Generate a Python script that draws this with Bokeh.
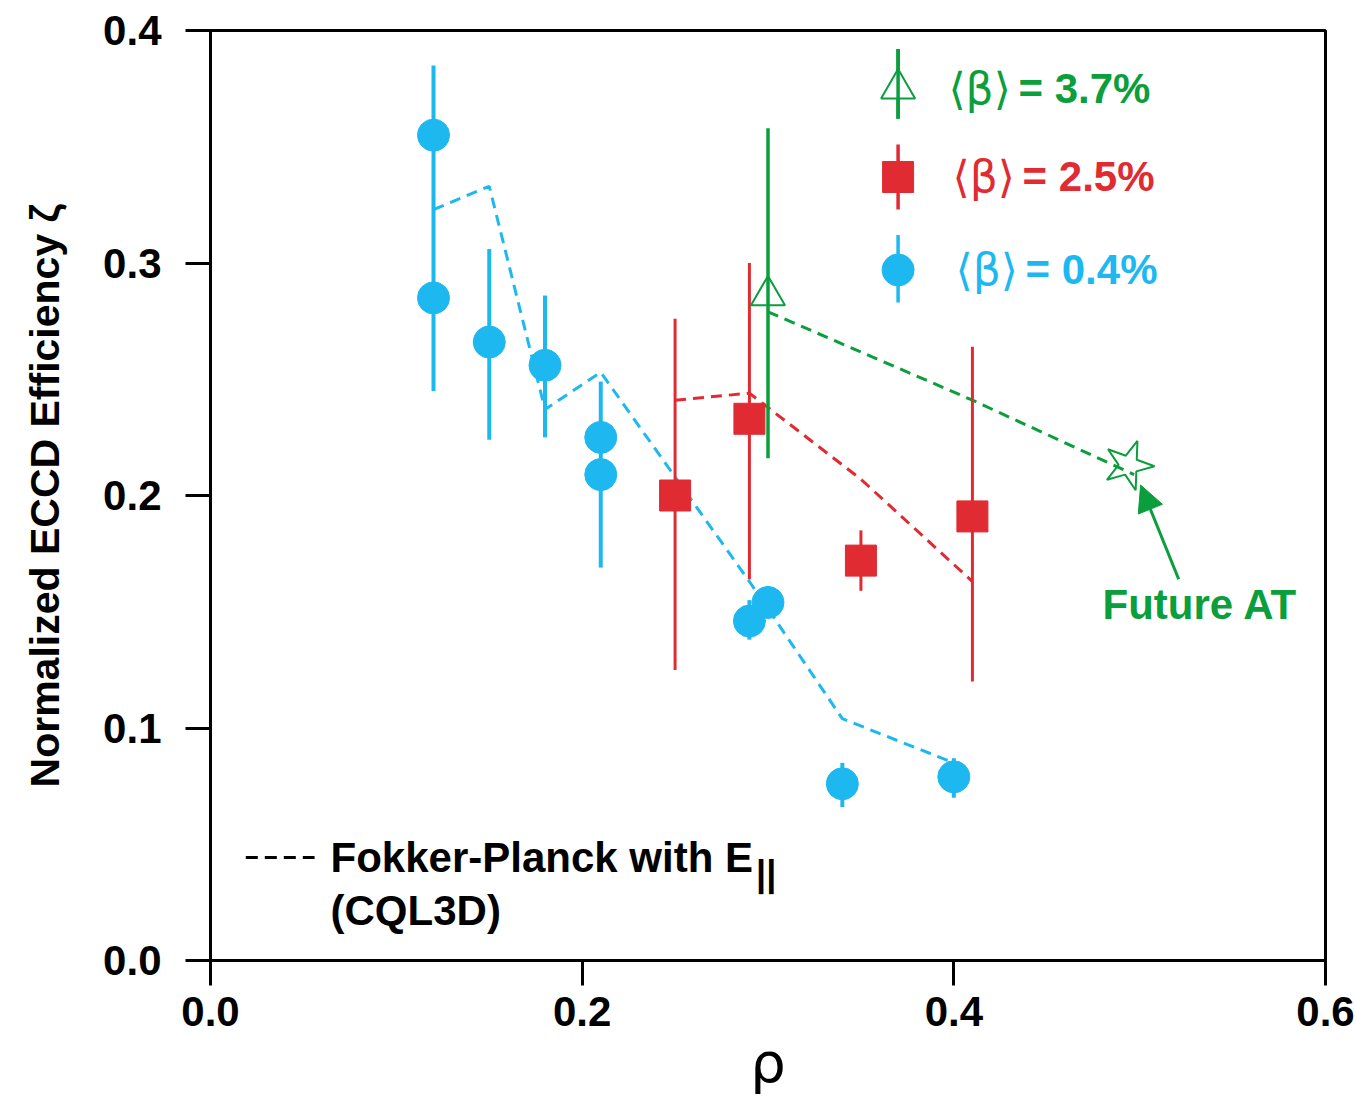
from bokeh.plotting import figure
from bokeh.models import Range1d, FixedTicker, Arrow, NormalHead
from bokeh.core.properties import value
from bokeh.embed import file_html
from bokeh.resources import INLINE

# ---------------- data ----------------
# <beta> = 0.4 %  (blue circles)
rho_low = [0.12, 0.12, 0.15, 0.18, 0.21, 0.21, 0.29, 0.30, 0.34, 0.40]
zeta_low = [0.355, 0.285, 0.266, 0.256, 0.225, 0.209, 0.146, 0.154, 0.076, 0.079]
zeta_low_hi = [0.385, 0.325, 0.306, 0.286, 0.249, 0.209, 0.155, 0.154, 0.085, 0.087]
zeta_low_lo = [0.325, 0.245, 0.224, 0.225, 0.209, 0.169, 0.138, 0.154, 0.066, 0.070]
cql_low_rho = [0.12, 0.15, 0.18, 0.21, 0.29, 0.34, 0.40]
cql_low = [0.323, 0.333, 0.237, 0.253, 0.163, 0.104, 0.085]

# <beta> = 2.5 %  (red squares)
rho_mid = [0.25, 0.29, 0.35, 0.41]
zeta_mid = [0.200, 0.233, 0.172, 0.191]
zeta_mid_hi = [0.276, 0.300, 0.185, 0.264]
zeta_mid_lo = [0.125, 0.164, 0.159, 0.120]
cql_mid_rho = [0.25, 0.29, 0.35, 0.41]
cql_mid = [0.241, 0.244, 0.207, 0.163]

# <beta> = 3.7 %  (green triangle)
rho_high = [0.30]
zeta_high = [0.286]
zeta_high_hi = [0.358]
zeta_high_lo = [0.216]
cql_high_rho = [0.30, 0.41, 0.497]
cql_high = [0.279, 0.241, 0.209]

# Future AT (open star)
rho_future = [0.494]
zeta_future = [0.213]

x_ticks = [0.0, 0.2, 0.4, 0.6]
x_tick_labels = ["0.0", "0.2", "0.4", "0.6"]
y_ticks = [0.0, 0.1, 0.2, 0.3, 0.4]
y_tick_labels = ["0.0", "0.1", "0.2", "0.3", "0.4"]

legend_labels = ["= 3.7%", "= 2.5%", "= 0.4%"]

# ---------------- style ----------------
BLUE = "#1EB8F0"
RED = "#E02B32"
GREEN = "#0A9E3C"
FONT = "Liberation Sans"
SYM = "DejaVu Sans"
FS = 42  # main text size in px
PX_PER_X = 1115 / 0.6  # frame pixels per data unit (layout helper only)

p = figure(width=1356, height=1099, output_backend="svg", toolbar_location=None,
           x_range=Range1d(0, 0.6), y_range=Range1d(0, 0.4),
           min_border_left=210, min_border_right=31, min_border_top=30, min_border_bottom=139)
p.background_fill_color = "white"
p.border_fill_color = "white"
p.xgrid.visible = False
p.ygrid.visible = False
p.outline_line_color = "black"
p.outline_line_width = 3
p.outline_line_alpha = 1

for ax in (p.xaxis[0], p.yaxis[0]):
    ax.axis_line_width = 3
    ax.major_tick_line_width = 3
    ax.major_tick_out = 25
    ax.major_tick_in = 0
    ax.minor_tick_line_color = None
    ax.major_label_text_font = FONT
    ax.major_label_text_font_style = "bold"
    ax.major_label_text_font_size = f"{FS}px"
    ax.major_label_text_color = "black"
    ax.axis_label_text_color = "black"

p.xaxis[0].ticker = FixedTicker(ticks=x_ticks)
p.xaxis[0].major_label_overrides = dict(zip(x_ticks, x_tick_labels))
p.xaxis[0].major_label_standoff = 11
p.xaxis[0].axis_label = "ρ"
p.xaxis[0].axis_label_text_font = SYM
p.xaxis[0].axis_label_text_font_style = "normal"
p.xaxis[0].axis_label_text_font_size = "56px"
p.xaxis[0].axis_label_standoff = 1

p.yaxis[0].ticker = FixedTicker(ticks=y_ticks)
p.yaxis[0].major_label_overrides = dict(zip(y_ticks, y_tick_labels))
p.yaxis[0].major_label_standoff = 24
p.yaxis[0].axis_label = "Normalized ECCD Efficiency ζ"
p.yaxis[0].axis_label_text_font = FONT
p.yaxis[0].axis_label_text_font_style = "bold"
p.yaxis[0].axis_label_text_font_size = "41px"
p.yaxis[0].axis_label_standoff = 32

# ---------------- CQL3D dashed lines ----------------
p.line(cql_low_rho, cql_low, line_color=BLUE, line_width=3, line_dash="11 7")
p.line(cql_mid_rho, cql_mid, line_color=RED, line_width=3, line_dash="11 7")
p.line(cql_high_rho, cql_high, line_color=GREEN, line_width=3, line_dash="11 7")

# ---------------- error bars ----------------
p.segment(x0=rho_low, y0=zeta_low_lo, x1=rho_low, y1=zeta_low_hi, line_color=BLUE, line_width=4)
p.segment(x0=rho_mid, y0=zeta_mid_lo, x1=rho_mid, y1=zeta_mid_hi, line_color=RED, line_width=3)
p.segment(x0=rho_high, y0=zeta_high_lo, x1=rho_high, y1=zeta_high_hi, line_color=GREEN, line_width=3.5)

# ---------------- markers ----------------
p.scatter(rho_low, zeta_low, marker="circle", size=32, fill_color=BLUE, line_color=BLUE)
p.scatter(rho_mid, zeta_mid, marker="square", size=31, fill_color=RED, line_color=RED)
p.scatter(rho_high, zeta_high, marker="triangle", size=34, fill_color=None,
          line_color=GREEN, line_width=2)
p.scatter(rho_future, zeta_future, marker="star", size=52, angle=-0.35, fill_color=None,
          line_color=GREEN, line_width=2)

# ---------------- Future AT annotation ----------------
p.add_layout(Arrow(end=NormalHead(size=26, fill_color=GREEN, line_color=GREEN, line_width=1),
                   x_start=0.521, y_start=0.164, x_end=0.5005, y_end=0.2045,
                   line_color=GREEN, line_width=3))
p.text(x=[0.480], y=[0.153], text=["Future AT"], text_font=value(FONT), text_font_style="bold",
       text_font_size=f"{FS}px", text_color=GREEN, text_baseline="middle", text_align="left")

# ---------------- legend (top right) ----------------
leg_x = 0.370
leg_y = [0.375, 0.337, 0.297]
leg_bar = [(0.362, 0.392), (0.323, 0.351), (0.283, 0.312)]
leg_col = [GREEN, RED, BLUE]
leg_sym_x = [0.3971, 0.3993, 0.4009]
leg_txt_x = [0.4348, 0.4370, 0.4386]
for i in range(3):
    p.segment(x0=[leg_x], y0=[leg_bar[i][0]], x1=[leg_x], y1=[leg_bar[i][1]],
              line_color=leg_col[i], line_width=3.5)
p.scatter([leg_x], [leg_y[0]], marker="triangle", size=34, fill_color="white",
          line_color=GREEN, line_width=2)
p.segment(x0=[leg_x], y0=[leg_bar[0][0]], x1=[leg_x], y1=[leg_bar[0][1]],
          line_color=GREEN, line_width=3.5)
p.scatter([leg_x], [leg_y[1]], marker="square", size=31, fill_color=RED, line_color=RED)
p.scatter([leg_x], [leg_y[2]], marker="circle", size=32, fill_color=BLUE, line_color=BLUE)
for i in range(3):
    p.text(x=[leg_sym_x[i]], y=[leg_y[i]], text=["⟨β⟩"], text_font=value(SYM),
           text_font_style="normal", text_font_size="44px", text_color=leg_col[i],
           text_baseline="middle", text_align="left")
    p.text(x=[leg_txt_x[i]], y=[leg_y[i]], text=[legend_labels[i]], text_font=value(FONT),
           text_font_style="bold", text_font_size=f"{FS}px", text_color=leg_col[i],
           text_baseline="middle", text_align="left")

# ---------------- CQL3D legend (bottom left) ----------------
fp_x = 0.0646
fp_text = "Fokker-Planck with E"
fp_width_em = 10.06  # Arial-metric bold width of fp_text in em
p.line([0.019, 0.056], [0.0443, 0.0443], line_color="black", line_width=3, line_dash="12 7")
p.text(x=[fp_x], y=[0.0443], text=[fp_text], text_font=value(FONT),
       text_font_style="bold", text_font_size=f"{FS}px", text_color="black",
       text_baseline="middle", text_align="left")
p.text(x=[fp_x + (fp_width_em * FS + 3) / PX_PER_X], y=[0.0375], text=["||"], text_font=value(FONT),
       text_font_style="bold", text_font_size="36px", text_color="black",
       text_baseline="middle", text_align="left")
p.text(x=[fp_x], y=[0.0215], text=["(CQL3D)"], text_font=value(FONT),
       text_font_style="bold", text_font_size=f"{FS}px", text_color="black",
       text_baseline="middle", text_align="left")

open("out.html", "w").write(file_html(p, INLINE))
